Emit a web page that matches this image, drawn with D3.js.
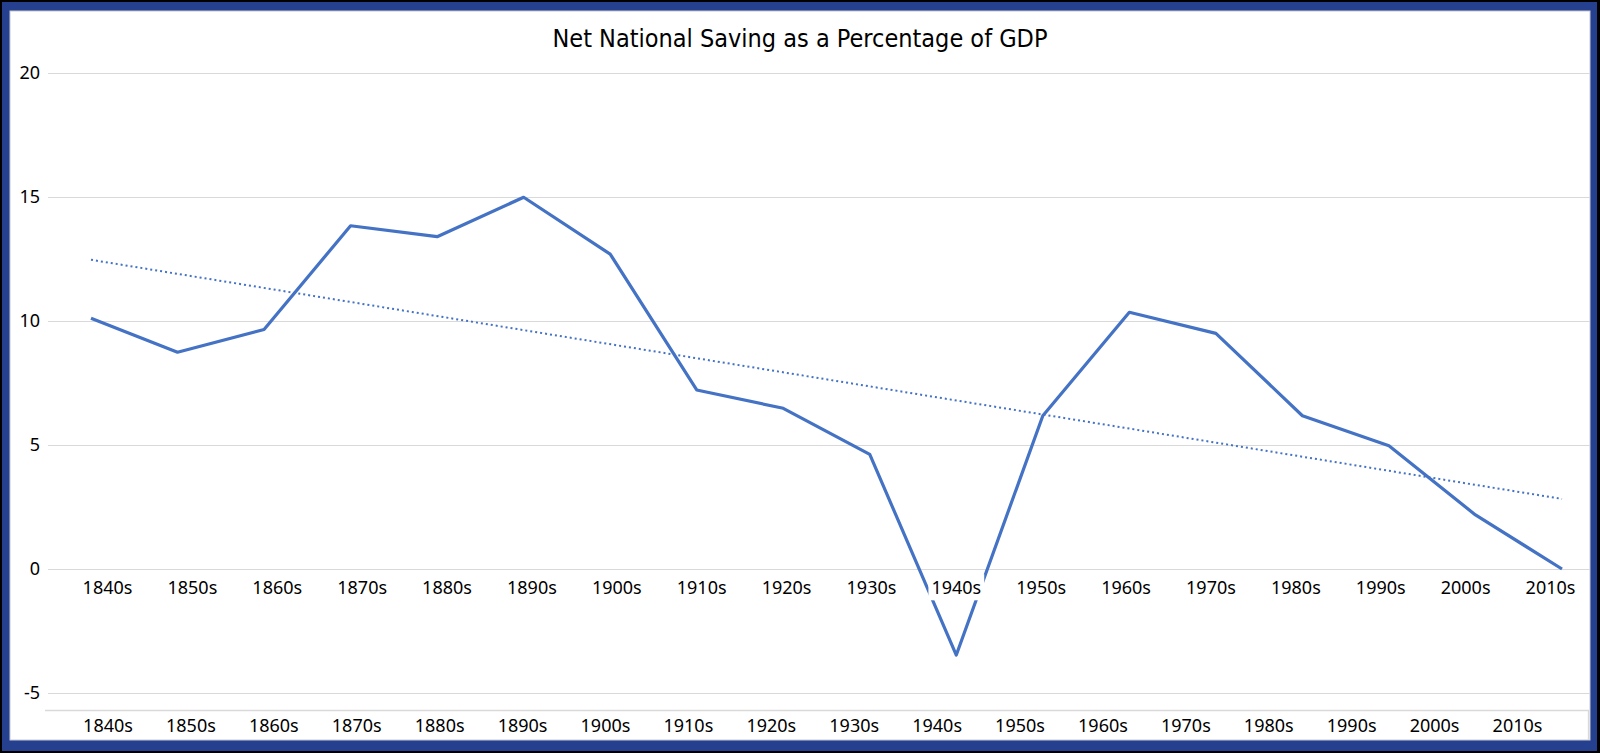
<!DOCTYPE html>
<html lang="en">
<head>
    <meta charset="UTF-8">
    <title>Net National Saving as a Percentage of GDP</title>
    <script src="https://d3js.org/d3.v7.min.js"></script>
    <style>
        body {
            margin: 0;
            padding: 0;
            background-color: #000;
        }
        .axis text {
            font-family: 'Noto Sans', 'Open Sans', sans-serif;
            font-size: 18px;
            fill: #000;
        }
        .grid line {
            stroke: #d9d9d9;
            stroke-width: 1.3;
            shape-rendering: crispEdges;
        }
        .title {
            font-family: 'Liberation Sans Narrow', 'DejaVu Sans Condensed', sans-serif;
            font-size: 25px;
            fill: #000;
        }
    </style>
</head>
<body>

    <svg width="1600" height="753" class="chart"></svg>

    <script>
        // Chart data
        const decades = ["1840s", "1850s", "1860s", "1870s", "1880s", "1890s", "1900s", "1910s", "1920s",
                         "1930s", "1940s", "1950s", "1960s", "1970s", "1980s", "1990s", "2000s", "2010s"];
        const saving = [10.11, 8.74, 9.66, 13.84, 13.40, 14.99, 12.70, 7.22, 6.48,
                        4.62, -3.47, 6.18, 10.35, 9.50, 6.18, 4.97, 2.18, 0.0];
        const yTicks = [-5, 0, 5, 10, 15, 20];
        const titleText = "Net National Saving as a Percentage of GDP";

        const svg = d3.select(".chart");
        const width = +svg.attr("width");
        const height = +svg.attr("height");

        // Frame: black edge, blue border, white inner panel
        svg.append("rect").attr("width", width).attr("height", height).attr("fill", "#000");
        svg.append("rect")
            .attr("x", 2).attr("y", 2)
            .attr("width", width - 5).attr("height", height - 4)
            .attr("fill", "#24408e");
        svg.append("rect")
            .attr("x", 10).attr("y", 11)
            .attr("width", 1580).attr("height", 729)
            .attr("fill", "#fff")
            .attr("stroke", "#c8c8d0")
            .attr("stroke-width", 1);

        const plot = { left: 48, right: 1590 };

        // Scales
        const x = d3.scalePoint().domain(decades).range([91, 1562]);
        const xTop = d3.scalePoint().domain(decades).range([107, 1550]);
        const xBottom = d3.scalePoint().domain(decades).range([107.5, 1517]);
        const y = d3.scaleLinear().domain([0, 20]).range([569, 73]);

        // Gridlines with y labels (plain hyphen for negatives, as in the original)
        const yAxis = svg.append("g")
            .attr("class", "axis grid")
            .attr("transform", `translate(${plot.left}, 0)`)
            .call(d3.axisLeft(y)
                .tickValues(yTicks)
                .tickFormat(d => String(d))
                .tickSize(-(plot.right - plot.left))
                .tickPadding(8));
        yAxis.select(".domain").remove();

        // Title
        svg.append("text")
            .attr("class", "title")
            .attr("x", 800)
            .attr("y", 47)
            .attr("text-anchor", "middle")
            .text(titleText);

        // Linear trend line (least squares on the series)
        const n = saving.length;
        const meanI = (n - 1) / 2;
        const meanV = d3.mean(saving);
        const sxy = d3.sum(saving, (v, i) => (i - meanI) * (v - meanV));
        const sxx = d3.sum(saving, (v, i) => (i - meanI) * (i - meanI));
        const slope = sxy / sxx;
        const trend = [0, n - 1].map(i => ({ d: decades[i], v: meanV + slope * (i - meanI) }));

        svg.append("path")
            .datum(trend)
            .attr("fill", "none")
            .attr("stroke", "#4472c4")
            .attr("stroke-width", 2)
            .attr("stroke-dasharray", "2,3")
            .attr("d", d3.line().x(d => x(d.d)).y(d => y(d.v)));

        // Main series
        svg.append("path")
            .datum(saving)
            .attr("fill", "none")
            .attr("stroke", "#4472c4")
            .attr("stroke-width", 3.2)
            .attr("stroke-linejoin", "round")
            .attr("d", d3.line().x((d, i) => x(decades[i])).y(d => y(d)));

        // Category labels along the zero line, with white backing
        const topAxis = svg.append("g")
            .attr("class", "axis")
            .attr("transform", `translate(0, ${y(0)})`)
            .call(d3.axisBottom(xTop).tickSize(0));
        topAxis.select(".domain").remove();
        topAxis.selectAll(".tick text").attr("y", 19).attr("dy", "0.35em");
        topAxis.selectAll(".tick").each(function() {
            const t = d3.select(this).select("text");
            const b = t.node().getBBox();
            d3.select(this).insert("rect", "text")
                .attr("x", b.x - 3).attr("y", b.y - 1)
                .attr("width", b.width + 6).attr("height", b.height + 2)
                .attr("fill", "#fff");
        });

        // Second category row at the bottom
        const bottomAxis = svg.append("g")
            .attr("class", "axis")
            .attr("transform", "translate(0, 710)")
            .call(d3.axisBottom(xBottom).tickSize(0));
        bottomAxis.select(".domain").remove();
        bottomAxis.selectAll(".tick text").attr("y", 15.5).attr("dy", "0.35em");

        svg.append("path")
            .attr("d", "M45,710.5H1588.5V740")
            .attr("fill", "none")
            .attr("stroke", "#d9d9d9")
            .attr("stroke-width", 1.3);
    </script>
</body>
</html>
